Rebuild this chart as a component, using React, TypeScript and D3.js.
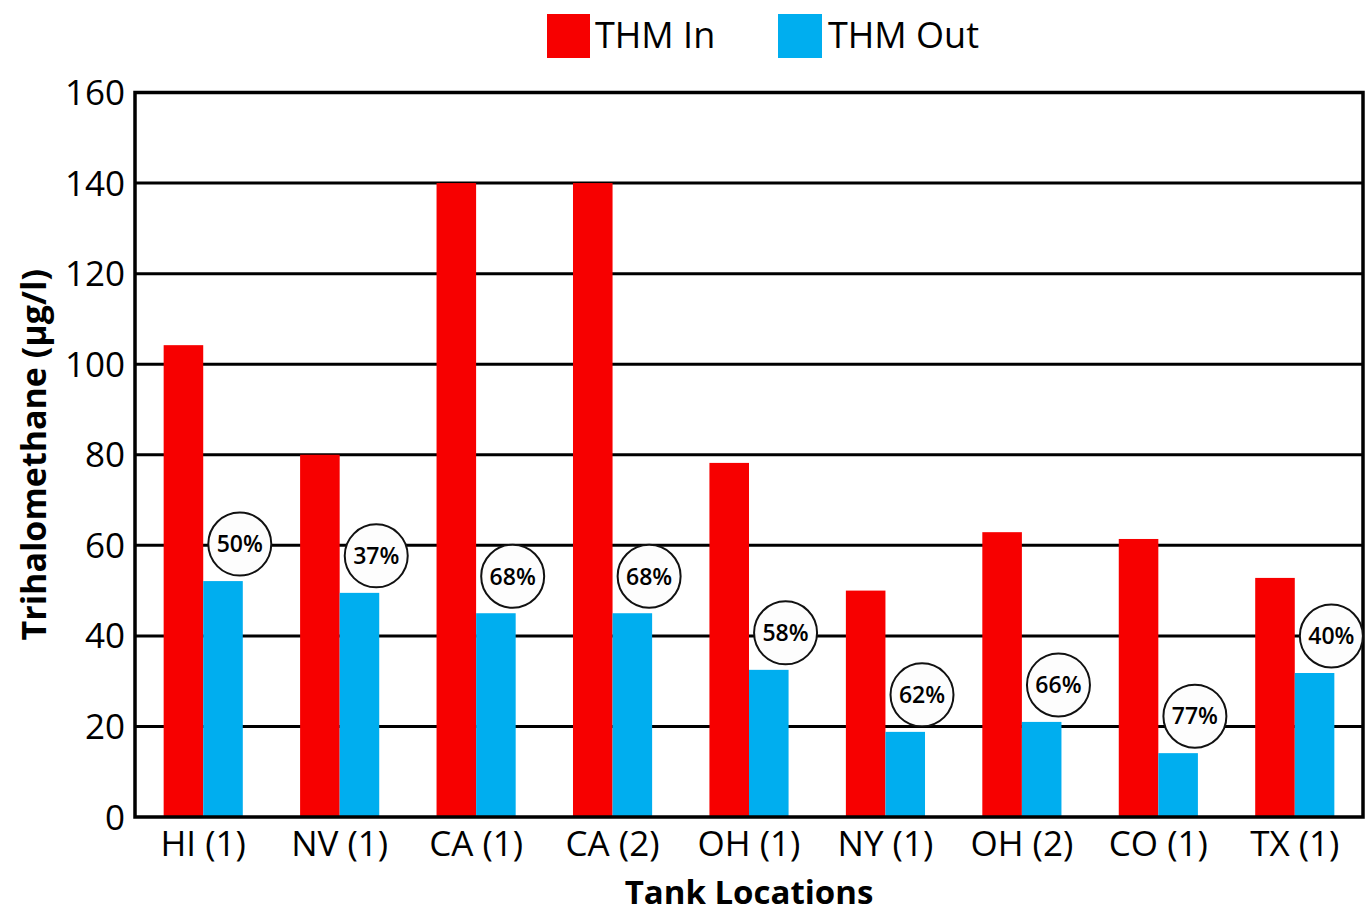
import React from "react";
import * as d3 from "d3";

const categories = ["HI (1)", "NV (1)", "CA (1)", "CA (2)", "OH (1)", "NY (1)", "OH (2)", "CO (1)", "TX (1)"];
const thmIn = [104.2, 80, 140, 140, 78.2, 50, 62.9, 61.4, 52.8];
const thmOut = [52.1, 49.5, 45, 45, 32.5, 18.8, 21, 14.1, 31.8];
const reductionLabels = ["50%", "37%", "68%", "68%", "58%", "62%", "66%", "77%", "40%"];
const yTicks = [0, 20, 40, 60, 80, 100, 120, 140, 160];
const seriesNames = ["THM In", "THM Out"];
const seriesColors = ["#f70000", "#00aeef"];

const W = 1371;
const H = 914;
const left = 135;
const right = 1363;
const top = 92.5;
const bottom = 817;
const FONT = "'Open Sans', 'Noto Sans', sans-serif";

export default function App() {
  const x = d3.scaleBand<string>().domain(categories).range([left, right]).paddingInner(0.42).paddingOuter(0.21);
  const xs = d3.scaleBand<string>().domain(["in", "out"]).range([0, x.bandwidth()]);
  const y = d3.scaleLinear().domain([0, 160]).range([bottom, top]);

  return (
    <svg width={W} height={H} style={{ position: "absolute", left: 0, top: 0, background: "#fff" }} fontFamily={FONT}>
      {/* gridlines */}
      {yTicks.slice(1, -1).map((t) => (
        <line key={t} x1={left} x2={right} y1={y(t)} y2={y(t)} stroke="#000" strokeWidth={3} />
      ))}
      {/* bars */}
      {categories.map((c, i) => (
        <g key={c}>
          <rect x={x(c)! + xs("in")!} y={y(thmIn[i])} width={xs.bandwidth()} height={y(0) - y(thmIn[i])} fill={seriesColors[0]} />
          <rect x={x(c)! + xs("out")!} y={y(thmOut[i])} width={xs.bandwidth()} height={y(0) - y(thmOut[i])} fill={seriesColors[1]} />
        </g>
      ))}
      {/* frame */}
      <rect x={left} y={top} width={right - left} height={bottom - top} fill="none" stroke="#000" strokeWidth={3.5} />
      {/* reduction labels */}
      {categories.map((c, i) => {
        const cx = x(c)! + x.bandwidth() - 3;
        const cy = y(thmOut[i]) - 37;
        return (
          <g key={"l" + c}>
            <circle cx={cx} cy={cy} r={31.5} fill="#fdfdfd" stroke="#111" strokeWidth={2} />
            <text x={cx} y={cy} dy="0.36em" textAnchor="middle" fontSize={23} fontWeight={600} fill="#000">
              {reductionLabels[i]}
            </text>
          </g>
        );
      })}
      {/* y ticks */}
      {yTicks.map((t) => (
        <text key={"t" + t} x={125} y={y(t)} dy="0.36em" textAnchor="end" fontSize={35} fill="#000">
          {t}
        </text>
      ))}
      {/* x labels */}
      {categories.map((c) => (
        <text key={"x" + c} x={x(c)! + x.bandwidth() / 2} y={856} textAnchor="middle" fontSize={35} fill="#000">
          {c}
        </text>
      ))}
      {/* axis titles */}
      <text x={(left + right) / 2} y={904} textAnchor="middle" fontSize={33} fontWeight={700} fill="#000">
        Tank Locations
      </text>
      <text transform={`translate(46, ${(top + bottom) / 2}) rotate(-90)`} textAnchor="middle" fontSize={34} fontWeight={700} fill="#000">
        Trihalomethane (µg/l)
      </text>
      {/* legend */}
      <rect x={547} y={14} width={43} height={44} fill={seriesColors[0]} />
      <text x={595} y={48} fontSize={36} fill="#000">{seriesNames[0]}</text>
      <rect x={778} y={14} width={44} height={44} fill={seriesColors[1]} />
      <text x={828} y={48} fontSize={36} fill="#000">{seriesNames[1]}</text>
    </svg>
  );
}
